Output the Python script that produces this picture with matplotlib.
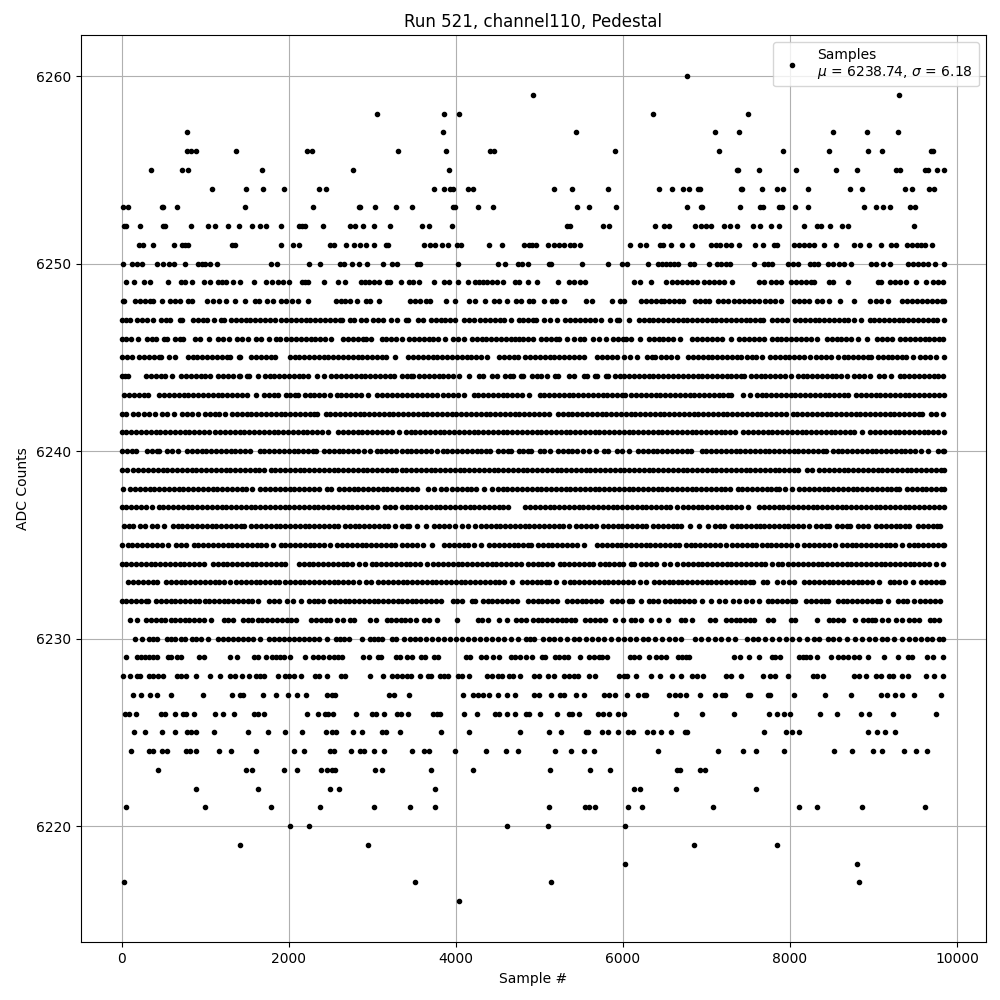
"""Pedestal scatter for run 521, channel 110: ADC counts per sample."""
import matplotlib

matplotlib.use("Agg")
import matplotlib.pyplot as plt

# Sample numbers, one list per ADC level.
# Rows 6231-6248 merge into solid runs: gaps are read, positions inside a run are estimates.
x_6216 = [4040]
x_6217 = [32, 3512, 5136, 8832]
x_6218 = [6024, 8808]
x_6219 = [1412, 2948, 6852, 7848]
x_6220 = [2012, 2240, 4616, 5100, 6024]
x_6221 = [56, 992, 1784, 2372, 3020, 3452, 3752, 5112, 5552, 5592, 5664, 6060, 6228, 7080, 8112, 8328, 8868, 9612]
x_6222 = [896, 1628, 2492, 2600, 3752, 6132, 6204, 6636, 7596]
x_6223 = [440, 1484, 1556, 1940, 2096, 2384, 2456, 2520, 2552, 3032, 3116, 3704, 4208, 5124, 5604, 5844, 6652, 6684, 6924, 6988]
x_6224 = [116, 332, 380, 488, 548, 776, 820, 896, 1160, 1304, 1604, 2060, 2180, 2492, 2540, 2744, 2852, 2900, 3020, 3140,
          3476, 3620, 3680, 3992, 4364, 4604, 4748, 5184, 5376, 5532, 5652, 6420, 7140, 7440, 7596, 7932, 8532, 8748, 8988,
          9096, 9360, 9504, 9636]
x_6225 = [152, 284, 488, 644, 788, 836, 896, 1100, 1508, 1748, 1952, 2156, 2444, 2516, 2564, 2768, 2876, 3116, 3164, 3332,
          3824, 4160, 4772, 5112, 5256, 5556, 5580, 5748, 5820, 5940, 6060, 6120, 6288, 6360, 6456, 6576, 6744, 6772, 7692,
          7956, 8028, 8112, 8928, 9036, 9132, 9252]
x_6226 = [40, 92, 176, 476, 524, 644, 740, 776, 872, 1112, 1208, 1340, 1580, 1628, 1700, 2216, 2348, 2432, 2468, 2528,
          2804, 2996, 3044, 3140, 3296, 3344, 3428, 3728, 3776, 3812, 4100, 4248, 4472, 4520, 4616, 4712, 4844, 4880, 5004,
          5208, 5352, 5392, 5472, 5700, 5760, 5832, 5940, 6012, 6636, 6948, 7332, 7752, 7848, 7932, 8004, 8364, 8568, 8856,
          8940, 9228, 9744]
x_6227 = [140, 236, 344, 428, 596, 968, 1316, 1412, 1448, 1688, 1844, 1988, 2096, 2204, 2456, 2516, 2552, 3200, 3260, 3440,
          4084, 4208, 4260, 4320, 4400, 4508, 4616, 4712, 4940, 4992, 5140, 5244, 5292, 5436, 5532, 5772, 5832, 5904, 6048,
          6180, 6252, 6276, 6552, 6624, 6684, 6756, 6924, 7104, 7188, 7224, 7500, 7524, 7740, 7764, 8052, 8424, 8736, 9092,
          9156, 9252, 9336, 9480, 9804]
x_6228 = [20, 104, 188, 224, 332, 380, 440, 500, 668, 716, 776, 896, 1052, 1172, 1292, 1352, 1436, 1520, 1604, 1652, 1700,
          1868, 1952, 2000, 2060, 2144, 2312, 2360, 2456, 2624, 2672, 2968, 3128, 3236, 3300, 3360, 3420, 3460, 3572, 3668,
          3704, 3812, 3860, 3908, 4028, 4076, 4160, 4376, 4436, 4508, 4556, 4640, 4688, 4768, 4932, 4992, 5100, 5172, 5292,
          5352, 5412, 5460, 5592, 5672, 5952, 6012, 6052, 6156, 6332, 6444, 6588, 6696, 6832, 6884, 6960, 7236, 7292, 7416,
          7680, 7764, 7824, 7976, 8280, 8328, 8400, 8772, 8832, 8908, 9024, 9084, 9180, 9232, 9340, 9412, 9628, 9720, 9836]
x_6229 = [56, 188, 236, 284, 332, 380, 428, 560, 596, 668, 716, 932, 980, 1292, 1376, 1580, 1628, 1724, 1796, 1844, 1892,
          1940, 2012, 2192, 2288, 2348, 2408, 2480, 2540, 2588, 2636, 2888, 2960, 3068, 3104, 3284, 3332, 3416, 3476, 3584,
          3632, 3740, 3788, 4124, 4172, 4304, 4364, 4448, 4520, 4664, 4712, 4772, 4840, 4912, 5032, 5072, 5184, 5232, 5292,
          5340, 5492, 5592, 5652, 5712, 5748, 5808, 6084, 6132, 6192, 6312, 6396, 6456, 6516, 6660, 6708, 6756, 6792, 7332,
          7404, 7508, 7632, 7788, 7824, 7884, 8112, 8160, 8196, 8244, 8328, 8496, 8580, 8640, 8700, 8772, 8832, 8932, 9120,
          9288, 9412, 9460, 9636, 9708, 9828]
x_6230 = [164, 248, 332, 380, 428, 548, 596, 644, 716, 764, 848, 896, 944, 1028, 1148, 1208, 1268, 1328, 1388, 1448, 1508,
          1568, 1652, 1760, 1820, 1880, 1940, 2000, 2060, 2120, 2180, 2240, 2300, 2360, 2456, 2564, 2612, 2660, 2720, 2876,
          2972, 3020, 3068, 3116, 3236, 3284, 3380, 3452, 3512, 3572, 3644, 3716, 3788, 3860, 3932, 4004, 4076, 4148, 4220,
          4292, 4364, 4436, 4508, 4580, 4660, 4748, 4840, 4890, 4932, 5040, 5110, 5180, 5250, 5330, 5410, 5480, 5560, 5630,
          5700, 5770, 5860, 5940, 6010, 6090, 6160, 6240, 6300, 6390, 6470, 6550, 6620, 6690, 6860, 6930, 7020, 7100, 7180,
          7260, 7340, 7490, 7560, 7620, 7700, 7780, 7870, 7950, 8030, 8110, 8200, 8290, 8350, 8450, 8520, 8590, 8680, 8780,
          8860, 8950, 9020, 9100, 9160, 9240, 9340, 9420, 9500, 9570, 9640, 9700, 9780, 9830]
x_6231 = [104, 186, 292, 348, 412, 470, 524, 586, 642, 700, 756, 812, 868, 930, 990, 1066, 1224, 1276, 1332, 1452, 1510, 1566,
          1628, 1684, 1744, 1802, 1860, 1916, 1976, 2032, 2090, 2272, 2330, 2388, 2444, 2490, 2572, 2648, 2732, 2780, 2972, 3048,
          3172, 3228, 3290, 3346, 3392, 3448, 3518, 3620, 3680, 3780, 4012, 4262, 4318, 4380, 4522, 4618, 4722, 4780, 4838, 4922,
          4980, 5036, 5094, 5150, 5208, 5266, 5322, 5380, 5432, 5552, 5610, 5668, 5728, 5788, 5900, 6000, 6092, 6150, 6218, 6332,
          6428, 6540, 6692, 6740, 6830, 7042, 7108, 7232, 7290, 7348, 7404, 7462, 7520, 7570, 7732, 7800, 8012, 8060, 8320, 8462,
          8520, 8578, 8640, 8776, 8872, 8930, 8986, 9020, 9100, 9172, 9270, 9344, 9422, 9486, 9550, 9672, 9728, 9780]
x_6232 = [0, 56, 118, 176, 230, 288, 320, 412, 468, 530, 588, 642, 700, 762, 818, 876, 930, 992, 1048, 1106, 1162, 1222, 1278,
          1336, 1394, 1452, 1510, 1566, 1628, 1762, 1818, 1888, 1982, 2050, 2150, 2242, 2300, 2356, 2410, 2492, 2552, 2608, 2668,
          2726, 2784, 2842, 2900, 2958, 3016, 3074, 3132, 3190, 3248, 3306, 3350, 3412, 3470, 3528, 3586, 3644, 3702, 3760, 3828,
          3962, 4018, 4080, 4192, 4230, 4322, 4380, 4436, 4496, 4554, 4612, 4670, 4738, 4862, 4920, 4978, 5036, 5094, 5152, 5208,
          5332, 5390, 5448, 5506, 5564, 5622, 5680, 5738, 5872, 5930, 5988, 6070, 6112, 6220, 6312, 6366, 6420, 6502, 6560, 6618,
          6676, 6734, 6792, 6848, 6942, 7060, 7152, 7220, 7322, 7390, 7472, 7550, 7630, 7732, 7790, 7848, 7906, 7964, 8022, 8060,
          8192, 8250, 8308, 8366, 8424, 8460, 8572, 8630, 8688, 8746, 8804, 8862, 8920, 8978, 9036, 9080, 9172, 9292, 9350, 9400,
          9484, 9562, 9620, 9678, 9736, 9800]
x_6233 = [82, 140, 198, 256, 314, 372, 420, 532, 590, 648, 706, 764, 822, 880, 938, 996, 1054, 1112, 1170, 1228, 1300, 1372,
          1430, 1488, 1546, 1604, 1662, 1720, 1778, 1836, 1880, 1952, 2010, 2072, 2130, 2188, 2246, 2304, 2362, 2420, 2478, 2536,
          2594, 2652, 2710, 2768, 2838, 2922, 2990, 3072, 3130, 3188, 3246, 3304, 3362, 3420, 3478, 3536, 3594, 3652, 3710, 3768,
          3826, 3884, 3942, 4000, 4058, 4116, 4174, 4232, 4290, 4348, 4406, 4464, 4522, 4580, 4668, 4792, 4850, 4908, 4966, 5024,
          5082, 5110, 5202, 5290, 5362, 5420, 5478, 5536, 5594, 5652, 5710, 5768, 5826, 5884, 5942, 6000, 6058, 6116, 6200, 6276,
          6372, 6430, 6488, 6546, 6604, 6662, 6710, 6770, 6828, 6886, 6944, 7002, 7060, 7118, 7176, 7234, 7292, 7350, 7408, 7466,
          7524, 7560, 7682, 7720, 7840, 7912, 7992, 8050, 8172, 8230, 8288, 8346, 8404, 8462, 8520, 8578, 8636, 8694, 8752, 8810,
          8868, 8926, 8984, 9060, 9192, 9250, 9308, 9380, 9472, 9572, 9630, 9688, 9746, 9804, 9830]
x_6234 = [0, 58, 114, 172, 230, 288, 346, 404, 462, 520, 578, 636, 694, 752, 810, 868, 926, 980, 1092, 1150, 1208, 1266, 1324,
          1382, 1440, 1498, 1556, 1614, 1672, 1730, 1788, 1846, 1904, 1950, 2122, 2180, 2238, 2296, 2354, 2412, 2470, 2528, 2586,
          2644, 2702, 2760, 2840, 2912, 2992, 3050, 3108, 3166, 3224, 3282, 3340, 3398, 3456, 3514, 3572, 3650, 3732, 3790, 3848,
          3906, 3964, 4022, 4080, 4138, 4196, 4254, 4312, 4370, 4428, 4486, 4544, 4602, 4660, 4718, 4776, 4862, 4920, 4978, 5036,
          5094, 5150, 5242, 5300, 5358, 5416, 5474, 5532, 5590, 5640, 5722, 5780, 5838, 5896, 5954, 6000, 6092, 6130, 6222, 6280,
          6338, 6400, 6492, 6560, 6652, 6720, 6778, 6836, 6894, 6952, 7010, 7068, 7126, 7184, 7242, 7300, 7358, 7416, 7474, 7532,
          7590, 7648, 7706, 7790, 7860, 7910, 7982, 8040, 8098, 8156, 8214, 8272, 8330, 8388, 8446, 8504, 8562, 8620, 8678, 8736,
          8794, 8852, 8910, 8968, 9026, 9084, 9142, 9200, 9258, 9316, 9374, 9432, 9490, 9548, 9606, 9660, 9752, 9830]
x_6235 = [0, 72, 130, 188, 246, 304, 362, 420, 478, 560, 652, 710, 770, 862, 920, 978, 1036, 1094, 1152, 1210, 1268, 1326, 1384,
          1442, 1500, 1558, 1616, 1674, 1732, 1810, 1902, 1960, 2018, 2076, 2134, 2192, 2250, 2308, 2366, 2424, 2500, 2582, 2640,
          2698, 2756, 2814, 2872, 2930, 2988, 3046, 3104, 3162, 3220, 3278, 3350, 3412, 3470, 3530, 3612, 3720, 3862, 3920, 3978,
          4036, 4094, 4140, 4222, 4300, 4402, 4460, 4518, 4576, 4634, 4692, 4750, 4808, 4866, 4900, 4982, 5040, 5098, 5156, 5214,
          5272, 5330, 5388, 5446, 5530, 5692, 5750, 5808, 5866, 5924, 5982, 6040, 6098, 6156, 6214, 6272, 6330, 6388, 6446, 6504,
          6562, 6620, 6670, 6750, 6810, 6868, 6926, 6984, 7042, 7100, 7158, 7230, 7312, 7370, 7428, 7486, 7544, 7590, 7662, 7720,
          7778, 7836, 7894, 7952, 8010, 8084, 8172, 8230, 8288, 8346, 8404, 8462, 8540, 8622, 8680, 8738, 8796, 8854, 8912, 8970,
          9028, 9086, 9144, 9202, 9260, 9340, 9422, 9480, 9538, 9596, 9654, 9712, 9770, 9828, 9848]
x_6236 = [32, 88, 140, 222, 280, 362, 420, 510, 612, 670, 728, 786, 844, 902, 960, 1018, 1076, 1134, 1192, 1250, 1308, 1366,
          1424, 1470, 1552, 1610, 1668, 1726, 1784, 1842, 1900, 1958, 2016, 2074, 2132, 2190, 2248, 2306, 2364, 2422, 2480, 2538,
          2590, 2672, 2730, 2788, 2846, 2904, 2962, 3020, 3078, 3136, 3190, 3272, 3350, 3410, 3440, 3532, 3640, 3742, 3800, 3858,
          3916, 3990, 4072, 4140, 4228, 4302, 4360, 4418, 4476, 4534, 4592, 4650, 4708, 4766, 4824, 4882, 4940, 4998, 5056, 5114,
          5172, 5230, 5288, 5360, 5442, 5500, 5558, 5616, 5680, 5762, 5820, 5878, 5936, 5994, 6052, 6110, 6168, 6226, 6280, 6362,
          6420, 6478, 6536, 6594, 6652, 6700, 6800, 6912, 7020, 7102, 7160, 7210, 7302, 7360, 7418, 7476, 7534, 7592, 7640, 7692,
          7750, 7808, 7866, 7924, 7982, 8040, 8098, 8156, 8230, 8312, 8370, 8428, 8470, 8562, 8620, 8678, 8720, 8812, 8870, 8930,
          9032, 9090, 9148, 9206, 9264, 9322, 9380, 9420, 9532, 9590, 9648, 9706, 9764, 9800]
x_6237 = [0, 58, 116, 174, 232, 290, 360, 442, 500, 558, 616, 674, 732, 790, 848, 906, 964, 1022, 1080, 1138, 1196, 1254, 1312,
          1370, 1428, 1486, 1544, 1602, 1660, 1718, 1776, 1834, 1892, 1950, 2008, 2066, 2124, 2182, 2240, 2298, 2356, 2414, 2472,
          2530, 2588, 2646, 2704, 2762, 2820, 2878, 2936, 2994, 3060, 3152, 3210, 3268, 3350, 3410, 3468, 3526, 3584, 3642, 3700,
          3758, 3816, 3874, 3932, 3990, 4048, 4106, 4164, 4222, 4280, 4338, 4396, 4454, 4512, 4570, 4620, 4832, 4890, 4948, 5006,
          5064, 5122, 5180, 5238, 5296, 5354, 5412, 5470, 5528, 5586, 5644, 5702, 5760, 5818, 5876, 5934, 5992, 6050, 6108, 6166,
          6224, 6282, 6340, 6398, 6456, 6514, 6560, 6652, 6720, 6778, 6836, 6894, 6952, 7010, 7068, 7126, 7184, 7242, 7300, 7358,
          7416, 7500, 7632, 7690, 7748, 7806, 7864, 7922, 7980, 8038, 8096, 8154, 8212, 8270, 8328, 8386, 8444, 8502, 8560, 8618,
          8676, 8734, 8792, 8850, 8908, 8966, 9024, 9082, 9140, 9198, 9256, 9314, 9372, 9430, 9488, 9546, 9604, 9662, 9720, 9778,
          9848]
x_6238 = [20, 102, 160, 218, 276, 334, 392, 450, 508, 566, 624, 682, 740, 798, 856, 914, 972, 1030, 1088, 1146, 1204, 1262,
          1320, 1378, 1436, 1494, 1560, 1662, 1720, 1778, 1836, 1894, 1952, 2010, 2068, 2126, 2184, 2242, 2300, 2360, 2462, 2510,
          2602, 2660, 2718, 2776, 2834, 2892, 2950, 3008, 3066, 3124, 3182, 3240, 3298, 3350, 3412, 3470, 3540, 3662, 3740, 3822,
          3880, 3960, 4012, 4070, 4128, 4186, 4244, 4340, 4428, 4502, 4560, 4618, 4676, 4734, 4792, 4850, 4908, 4966, 5024, 5082,
          5140, 5198, 5256, 5314, 5372, 5430, 5488, 5546, 5604, 5662, 5720, 5778, 5836, 5894, 5952, 6010, 6068, 6126, 6184, 6242,
          6300, 6358, 6416, 6474, 6532, 6590, 6648, 6706, 6764, 6822, 6880, 6938, 6996, 7054, 7112, 7170, 7228, 7280, 7372, 7430,
          7488, 7546, 7604, 7662, 7720, 7778, 7836, 7870, 7942, 8030, 8112, 8170, 8228, 8286, 8344, 8402, 8460, 8518, 8576, 8634,
          8692, 8750, 8808, 8866, 8924, 8982, 9040, 9098, 9156, 9214, 9272, 9310, 9402, 9460, 9518, 9576, 9634, 9692, 9750, 9808,
          9848]
x_6239 = [0, 60, 142, 200, 258, 316, 374, 432, 490, 548, 606, 664, 722, 780, 838, 896, 954, 1012, 1070, 1128, 1186, 1244, 1302,
          1360, 1418, 1476, 1534, 1592, 1650, 1700, 1782, 1840, 1898, 1956, 2014, 2072, 2130, 2188, 2246, 2304, 2362, 2420, 2478,
          2536, 2594, 2652, 2710, 2768, 2826, 2884, 2942, 3000, 3058, 3116, 3174, 3232, 3290, 3350, 3408, 3466, 3524, 3582, 3640,
          3698, 3756, 3814, 3872, 3930, 3988, 4046, 4104, 4162, 4220, 4278, 4336, 4394, 4452, 4510, 4568, 4626, 4684, 4742, 4800,
          4858, 4916, 4974, 5032, 5090, 5148, 5206, 5264, 5322, 5380, 5438, 5496, 5554, 5612, 5670, 5728, 5786, 5844, 5902, 5960,
          6018, 6076, 6134, 6192, 6250, 6308, 6366, 6424, 6482, 6540, 6598, 6656, 6714, 6772, 6830, 6888, 6946, 7004, 7062, 7120,
          7178, 7236, 7294, 7352, 7410, 7468, 7526, 7584, 7642, 7700, 7758, 7816, 7874, 7932, 7990, 8048, 8100, 8202, 8260, 8352,
          8410, 8468, 8526, 8584, 8642, 8700, 8758, 8816, 8874, 8932, 8990, 9048, 9106, 9164, 9222, 9280, 9338, 9396, 9454, 9512,
          9570, 9628, 9686, 9744, 9802, 9848]
x_6240 = [0, 62, 120, 170, 302, 360, 418, 450, 542, 600, 670, 782, 840, 898, 956, 1014, 1072, 1130, 1188, 1246, 1304, 1362,
          1420, 1478, 1540, 1652, 1710, 1768, 1826, 1884, 1942, 2000, 2058, 2116, 2174, 2232, 2290, 2330, 2422, 2480, 2538, 2596,
          2654, 2712, 2770, 2828, 2900, 2972, 3052, 3110, 3168, 3226, 3284, 3350, 3410, 3468, 3526, 3584, 3642, 3700, 3770, 3842,
          3900, 3958, 4016, 4074, 4132, 4190, 4248, 4306, 4364, 4410, 4502, 4560, 4620, 4660, 4752, 4810, 4868, 4900, 5002, 5060,
          5130, 5222, 5280, 5338, 5396, 5454, 5520, 5592, 5680, 5772, 5820, 5932, 5990, 6070, 6182, 6240, 6298, 6356, 6414, 6472,
          6530, 6588, 6646, 6704, 6762, 6810, 6942, 7000, 7058, 7116, 7174, 7232, 7290, 7348, 7406, 7464, 7522, 7580, 7638, 7696,
          7754, 7812, 7870, 7928, 7986, 8044, 8102, 8160, 8218, 8276, 8334, 8392, 8430, 8512, 8570, 8628, 8686, 8744, 8802, 8860,
          8918, 8976, 9034, 9092, 9150, 9208, 9266, 9324, 9382, 9440, 9498, 9570, 9650, 9772, 9830, 9848]
x_6241 = [0, 58, 116, 174, 232, 290, 348, 406, 464, 522, 580, 638, 696, 754, 812, 870, 928, 986, 1050, 1122, 1180, 1238, 1296,
          1354, 1412, 1470, 1528, 1586, 1644, 1702, 1760, 1818, 1876, 1934, 1992, 2050, 2108, 2166, 2224, 2282, 2340, 2398, 2470,
          2592, 2650, 2708, 2766, 2824, 2882, 2940, 2998, 3056, 3114, 3172, 3240, 3322, 3400, 3458, 3516, 3574, 3632, 3690, 3748,
          3806, 3864, 3922, 3980, 4038, 4096, 4154, 4212, 4270, 4328, 4386, 4444, 4502, 4560, 4618, 4676, 4734, 4792, 4850, 4908,
          4966, 5024, 5082, 5140, 5198, 5256, 5314, 5372, 5430, 5488, 5546, 5604, 5662, 5720, 5778, 5836, 5894, 5952, 6010, 6068,
          6126, 6184, 6242, 6300, 6358, 6416, 6474, 6532, 6590, 6648, 6706, 6764, 6822, 6880, 6938, 6996, 7054, 7112, 7170, 7228,
          7286, 7340, 7442, 7500, 7558, 7616, 7674, 7732, 7790, 7848, 7906, 7964, 8022, 8080, 8138, 8196, 8254, 8312, 8370, 8428,
          8486, 8544, 8602, 8660, 8718, 8770, 8860, 8962, 9020, 9078, 9136, 9194, 9252, 9310, 9368, 9426, 9484, 9542, 9600, 9658,
          9716, 9774, 9840]
x_6242 = [0, 50, 132, 190, 272, 330, 400, 482, 540, 630, 722, 780, 838, 910, 1002, 1060, 1118, 1170, 1240, 1322, 1380, 1438,
          1496, 1554, 1612, 1670, 1728, 1786, 1844, 1902, 1960, 2018, 2076, 2134, 2192, 2250, 2308, 2340, 2442, 2500, 2558, 2616,
          2674, 2732, 2790, 2848, 2906, 2964, 3022, 3080, 3138, 3196, 3254, 3312, 3370, 3428, 3486, 3544, 3602, 3660, 3718, 3776,
          3834, 3892, 3950, 4008, 4066, 4124, 4182, 4240, 4298, 4356, 4414, 4472, 4530, 4588, 4646, 4704, 4762, 4820, 4878, 4936,
          4994, 5052, 5120, 5222, 5280, 5338, 5396, 5454, 5512, 5570, 5628, 5686, 5744, 5802, 5860, 5918, 5976, 6034, 6092, 6150,
          6208, 6266, 6324, 6382, 6440, 6498, 6556, 6614, 6672, 6730, 6788, 6846, 6904, 6962, 7020, 7078, 7136, 7194, 7252, 7310,
          7368, 7426, 7484, 7542, 7600, 7658, 7716, 7774, 7832, 7890, 7950, 8032, 8090, 8148, 8206, 8264, 8322, 8380, 8438, 8496,
          8554, 8612, 8670, 8728, 8786, 8844, 8902, 8960, 9018, 9076, 9134, 9192, 9250, 9308, 9366, 9424, 9482, 9540, 9580, 9692,
          9750, 9830]
x_6243 = [32, 90, 148, 206, 264, 310, 452, 510, 568, 626, 684, 742, 800, 858, 916, 974, 1032, 1090, 1148, 1206, 1264, 1322,
          1380, 1438, 1500, 1604, 1702, 1760, 1818, 1870, 1962, 2020, 2078, 2110, 2192, 2250, 2308, 2366, 2424, 2490, 2572, 2630,
          2688, 2746, 2804, 2862, 2950, 3062, 3120, 3178, 3236, 3294, 3360, 3420, 3478, 3536, 3594, 3652, 3710, 3770, 3852, 3910,
          3968, 4026, 4100, 4212, 4270, 4328, 4386, 4444, 4502, 4560, 4618, 4676, 4734, 4792, 4880, 5002, 5060, 5118, 5176, 5234,
          5292, 5350, 5408, 5466, 5524, 5582, 5640, 5698, 5756, 5814, 5872, 5930, 5988, 6020, 6102, 6160, 6218, 6276, 6334, 6392,
          6450, 6508, 6566, 6624, 6682, 6740, 6798, 6856, 6914, 6972, 7030, 7088, 7146, 7204, 7262, 7300, 7432, 7520, 7602, 7660,
          7718, 7776, 7834, 7892, 7950, 8008, 8066, 8124, 8182, 8240, 8298, 8356, 8414, 8472, 8530, 8588, 8646, 8700, 8792, 8850,
          8908, 8966, 9024, 9082, 9140, 9198, 9256, 9314, 9372, 9430, 9488, 9546, 9604, 9662, 9720, 9780, 9848]
x_6244 = [0, 40, 80, 292, 350, 408, 466, 524, 600, 712, 770, 828, 886, 944, 1002, 1060, 1152, 1210, 1268, 1330, 1402, 1420,
          1502, 1530, 1632, 1712, 1770, 1828, 1886, 1944, 2002, 2060, 2118, 2176, 2230, 2342, 2420, 2512, 2570, 2628, 2686, 2744,
          2802, 2860, 2918, 2976, 3034, 3092, 3150, 3208, 3266, 3350, 3410, 3468, 3490, 3562, 3620, 3678, 3736, 3794, 3852, 3910,
          3968, 4040, 4160, 4272, 4330, 4432, 4490, 4592, 4650, 4680, 4782, 4800, 4912, 4970, 5020, 5096, 5192, 5220, 5352, 5410,
          5532, 5570, 5662, 5690, 5792, 5820, 5902, 5960, 6018, 6076, 6134, 6192, 6250, 6308, 6366, 6424, 6482, 6540, 6598, 6656,
          6720, 6778, 6836, 6894, 6952, 7010, 7068, 7126, 7184, 7242, 7300, 7358, 7416, 7450, 7532, 7590, 7648, 7706, 7764, 7822,
          7880, 7938, 8010, 8092, 8150, 8208, 8266, 8324, 8382, 8440, 8498, 8556, 8610, 8680, 8772, 8830, 8888, 8960, 9062, 9120,
          9210, 9312, 9370, 9428, 9486, 9544, 9602, 9660, 9718, 9776, 9830]
x_6245 = [0, 60, 130, 212, 270, 328, 386, 444, 470, 562, 640, 792, 850, 908, 966, 1024, 1082, 1140, 1198, 1256, 1300, 1400, 1420,
          1552, 1610, 1668, 1726, 1784, 1840, 2012, 2070, 2128, 2186, 2244, 2302, 2360, 2418, 2476, 2534, 2592, 2650, 2708, 2766,
          2824, 2882, 2940, 2998, 3056, 3114, 3160, 3270, 3432, 3490, 3548, 3606, 3664, 3722, 3780, 3838, 3896, 3954, 4012, 4070,
          4128, 4186, 4244, 4302, 4370, 4522, 4580, 4638, 4696, 4750, 4832, 4890, 4948, 5006, 5064, 5122, 5180, 5238, 5296, 5354,
          5412, 5470, 5540, 5692, 5750, 5808, 5866, 5924, 6010, 6082, 6170, 6292, 6350, 6380, 6462, 6520, 6578, 6650, 6782, 6840,
          6898, 6956, 7014, 7072, 7130, 7188, 7246, 7304, 7362, 7410, 7482, 7540, 7598, 7660, 7762, 7820, 7878, 7936, 7994, 8052,
          8110, 8168, 8240, 8312, 8370, 8428, 8486, 8570, 8642, 8700, 8758, 8816, 8874, 8932, 8970, 9052, 9110, 9168, 9226, 9284,
          9342, 9390, 9468, 9562, 9620, 9678, 9750, 9848]
x_6246 = [0, 58, 116, 190, 302, 360, 410, 502, 540, 642, 700, 740, 882, 940, 1040, 1152, 1210, 1280, 1382, 1440, 1510, 1612,
          1670, 1760, 1850, 1890, 1972, 2030, 2088, 2146, 2204, 2262, 2320, 2378, 2436, 2510, 2652, 2710, 2768, 2826, 2884, 2920,
          2990, 3112, 3170, 3228, 3286, 3350, 3442, 3500, 3558, 3616, 3674, 3732, 3790, 3870, 3972, 4030, 4100, 4192, 4250, 4308,
          4366, 4424, 4482, 4540, 4598, 4656, 4714, 4760, 4802, 4860, 4920, 5022, 5080, 5138, 5196, 5240, 5332, 5420, 5492, 5540,
          5640, 5712, 5800, 5882, 5940, 6000, 6042, 6100, 6200, 6312, 6370, 6428, 6486, 6544, 6602, 6680, 6832, 6890, 6948, 7006,
          7064, 7122, 7190, 7296, 7392, 7450, 7508, 7566, 7624, 7690, 7782, 7840, 7898, 7956, 8014, 8072, 8130, 8188, 8246, 8320,
          8442, 8500, 8558, 8616, 8674, 8732, 8820, 8920, 9042, 9100, 9158, 9220, 9322, 9380, 9438, 9496, 9554, 9612, 9670, 9728,
          9786, 9830]
x_6247 = [0, 58, 96, 186, 244, 302, 376, 472, 530, 576, 700, 728, 852, 910, 968, 1026, 1108, 1192, 1228, 1310, 1368, 1426, 1484,
          1542, 1600, 1658, 1716, 1774, 1840, 1912, 1970, 2028, 2086, 2144, 2202, 2260, 2318, 2376, 2434, 2492, 2550, 2608, 2640,
          2732, 2780, 2860, 2920, 3008, 3066, 3124, 3220, 3300, 3400, 3425, 3552, 3610, 3702, 3760, 3818, 3876, 3934, 3990, 4102,
          4160, 4220, 4292, 4350, 4408, 4466, 4524, 4582, 4660, 4752, 4810, 4868, 4926, 4960, 5050, 5132, 5210, 5302, 5370, 5432,
          5490, 5548, 5606, 5664, 5740, 5842, 5930, 5952, 6070, 6192, 6250, 6308, 6366, 6424, 6482, 6540, 6598, 6656, 6714, 6772,
          6830, 6888, 6946, 7004, 7062, 7120, 7178, 7236, 7294, 7352, 7410, 7468, 7526, 7584, 7642, 7680, 7782, 7840, 7900, 7970,
          8062, 8120, 8178, 8236, 8294, 8352, 8410, 8468, 8526, 8584, 8642, 8690, 8772, 8850, 8952, 9010, 9068, 9126, 9184, 9242,
          9300, 9358, 9416, 9474, 9532, 9590, 9648, 9706, 9764, 9840]
x_6248 = [12, 28, 160, 220, 280, 340, 380, 480, 580, 640, 700, 792, 848, 1024, 1088, 1160, 1252, 1352, 1472, 1592, 1648, 1740,
          1808, 1912, 1972, 2040, 2108, 2228, 2560, 2620, 2672, 2732, 2816, 2920, 2968, 3080, 3452, 3508, 3576, 3644, 3692, 3888,
          3988, 4156, 4224, 4348, 4456, 4516, 4612, 4716, 4776, 4876, 4924, 5056, 5148, 5204, 5296, 5564, 5636, 5872, 5964, 6016,
          6216, 6276, 6336, 6396, 6456, 6496, 6556, 6616, 6676, 6716, 6864, 6924, 6984, 7032, 7144, 7204, 7264, 7324, 7384, 7444,
          7504, 7564, 7624, 7704, 7764, 7824, 7896, 8044, 8104, 8164, 8224, 8324, 8384, 8464, 8596, 8768, 8956, 9024, 9092, 9172,
          9344, 9404, 9464, 9524, 9584, 9644, 9704, 9764, 9824, 9848]
x_6249 = [56, 152, 272, 344, 560, 716, 764, 848, 980, 1052, 1148, 1196, 1244, 1332, 1412, 1580, 1724, 1796, 1868, 1928,
          2000, 2156, 2192, 2228, 2420, 2588, 2672, 2868, 2912, 2960, 3020, 3080, 3176, 3212, 3344, 3440, 3488, 3560, 3740,
          3860, 3920, 4028, 4148, 4232, 4280, 4328, 4376, 4436, 4496, 4568, 4712, 4760, 4868, 4968, 5220, 5352, 5412, 5484,
          5552, 6132, 6204, 6332, 6520, 6588, 6652, 6712, 6772, 6832, 6892, 6972, 7032, 7092, 7152, 7212, 7312, 7632, 7692,
          7772, 7832, 7892, 8012, 8072, 8132, 8192, 8252, 8292, 8472, 8512, 8692, 9052, 9092, 9192, 9252, 9312, 9392, 9512,
          9632, 9712, 9772, 9832]
x_6250 = [16, 120, 180, 248, 428, 500, 572, 632, 764, 920, 960, 1000, 1060, 1136, 1784, 1856, 2240, 2372, 2612, 2660, 2760,
          2840, 2936, 3128, 3236, 3296, 3532, 3572, 4028, 4508, 4592, 4748, 4796, 4860, 5120, 5135, 5508, 5820, 5988, 6048,
          6300, 6420, 6468, 6516, 6564, 6612, 6660, 6804, 6852, 7032, 7128, 7172, 7232, 7284, 7572, 7692, 7740, 7788, 7972,
          8032, 8092, 8244, 8292, 8340, 8452, 8520, 8592, 8652, 8732, 8972, 9032, 9112, 9192, 9412, 9472, 9532, 9592, 9652,
          9732, 9848]
x_6251 = [212, 260, 380, 632, 720, 756, 800, 1316, 1352, 1904, 2048, 2120, 2492, 2540, 2684, 2780, 2852, 2924, 3020, 3164,
          3188, 3620, 3692, 3752, 3836, 3908, 4016, 4064, 4400, 4556, 4820, 4880, 4912, 4964, 5100, 5172, 5232, 5292, 5364,
          5420, 5484, 6084, 6204, 6272, 6444, 6476, 6576, 6708, 6828, 7056, 7116, 7164, 7236, 7292, 7392, 7584, 7672, 7812,
          7844, 8052, 8112, 8172, 8232, 8292, 8412, 8556, 8772, 8844, 8940, 9092, 9204, 9264, 9404, 9460, 9516, 9572, 9612,
          9696]
x_6252 = [28, 52, 224, 500, 524, 836, 1028, 1112, 1268, 1400, 1556, 1652, 1724, 1904, 2120, 2156, 2192, 2408, 2732, 2792,
          2888, 3020, 3212, 3596, 3680, 3956, 5332, 5372, 5760, 5832, 6384, 6492, 6548, 6864, 6936, 6996, 7056, 7212, 7284,
          7368, 7560, 7644, 7776, 7872, 8172, 8328, 8376, 8484, 8628, 8700, 9480]
x_6253 = [16, 80, 480, 500, 668, 1472, 2288, 2840, 2852, 3032, 3284, 3476, 3972, 3996, 4268, 4448, 5452, 5592, 5916, 6768,
          6932, 6945, 7404, 7644, 7680, 7872, 7900, 8064, 8220, 8892, 9024, 9108, 9192, 9432, 9492]
x_6254 = [1076, 1484, 1688, 1940, 2360, 2444, 3740, 3860, 3932, 3964, 4148, 4208, 5172, 5388, 5820, 6432, 6588, 6720, 6792,
          6896, 6920, 7410, 7430, 7668, 7844, 7912, 8220, 8724, 8868, 9372, 9456, 9660, 9720]
x_6255 = [356, 720, 800, 1676, 2768, 3920, 7360, 7380, 7632, 8076, 8556, 8808, 9272, 9312, 9620, 9652, 9756, 9844]
x_6256 = [780, 828, 896, 1364, 2220, 2276, 3308, 3884, 4412, 4452, 5904, 7152, 7920, 8472, 8928, 9096, 9692, 9716]
x_6257 = [788, 3848, 5436, 7104, 7392, 8520, 8916, 9288]
x_6258 = [3056, 3860, 4040, 6360, 7500]
x_6259 = [4920, 9300]
x_6260 = [6768]

levels = list(range(6216, 6261))
samples_by_level = [
    x_6216, x_6217, x_6218, x_6219, x_6220, x_6221, x_6222, x_6223, x_6224, x_6225, x_6226, x_6227, x_6228, x_6229, x_6230,
    x_6231, x_6232, x_6233, x_6234, x_6235, x_6236, x_6237, x_6238, x_6239, x_6240, x_6241, x_6242, x_6243, x_6244, x_6245,
    x_6246, x_6247, x_6248, x_6249, x_6250, x_6251, x_6252, x_6253, x_6254, x_6255, x_6256, x_6257, x_6258, x_6259, x_6260,
]

xs = []
ys = []
for level, samples in zip(levels, samples_by_level):
    xs.extend(samples)
    ys.extend([level] * len(samples))

fig, ax = plt.subplots(figsize=(10, 10), dpi=100)
ax.plot(xs, ys, ".", color="black", label="Samples\n$\\mu$ = 6238.74, $\\sigma$ = 6.18")
ax.set_title("Run 521, channel110, Pedestal")
ax.set_xlabel("Sample #")
ax.set_ylabel("ADC Counts")
ax.grid(True)
ax.legend(loc="upper right")
fig.subplots_adjust(left=0.0805, right=0.9855, top=0.965, bottom=0.0577)
fig.savefig("out.png")
